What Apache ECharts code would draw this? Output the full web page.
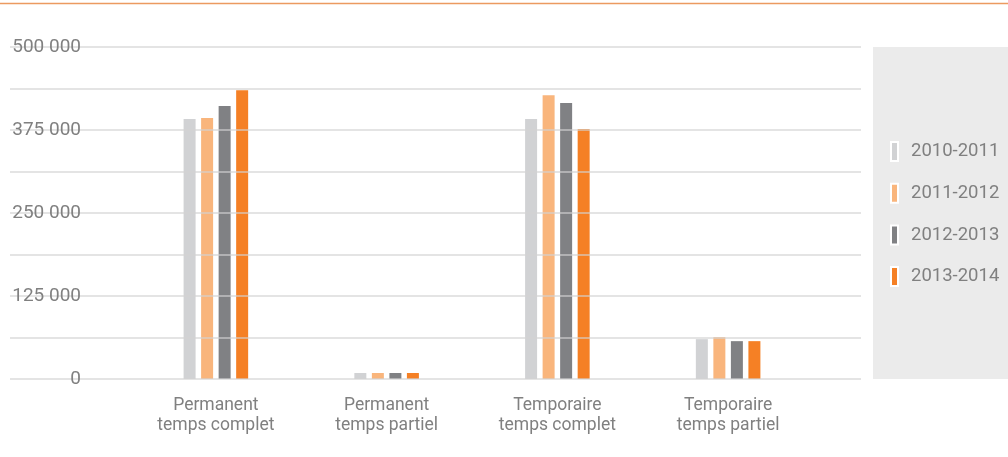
<!DOCTYPE html>
<html>
<head>
<meta charset="utf-8">
<script src="https://cdn.jsdelivr.net/npm/echarts@6/dist/echarts.min.js"></script>
<style>
  html, body { margin: 0; padding: 0; background: #fff; }
  #chart { width: 1008px; height: 457px; }
</style>
</head>
<body>
<div id="chart"></div>
<script>
const categories = ['Permanent\ntemps complet', 'Permanent\ntemps partiel', 'Temporaire\ntemps complet', 'Temporaire\ntemps partiel']
const years = ['2010-2011', '2011-2012', '2012-2013', '2013-2014']
const colors = ['#d1d2d4', '#f9b57c', '#808184', '#f58025']
const values2010 = [391500, 9000, 391500, 60000]
const values2011 = [393000, 9000, 427500, 63000]
const values2012 = [411000, 9000, 415500, 57000]
const values2013 = [435000, 9000, 376500, 57000]
const seriesValues = [values2010, values2011, values2012, values2013]

const font = "'Liberation Sans Narrow', 'Roboto', sans-serif"
const textGray = '#808080'

const chart = echarts.init(document.getElementById('chart'))

// libellés avec espace comme séparateur de milliers
function fmt(v) {
  if (v % 125000 !== 0) return ''
  return String(v).replace(/\B(?=(\d{3})+(?!\d))/g, ' ')
}

const series = years.map((name, i) => ({
  name,
  type: 'bar',
  xAxisIndex: 1,
  yAxisIndex: 1,
  barWidth: 12,
  barGap: '46%',
  itemStyle: { color: colors[i] },
  data: seriesValues[i],
}))

const option = {
  animation: false,
  color: colors,
  graphic: [
    {
      type: 'line',
      shape: { x1: 0, y1: 3.5, x2: 1008, y2: 3.5 },
      style: { stroke: '#ec9a60', lineWidth: 1.5 },
      z: 0,
    },
    {
      type: 'rect',
      shape: { x: 873, y: 47, width: 135, height: 332 },
      style: { fill: '#ebebeb' },
      z: 0,
    },
  ],
  legend: {
    data: years,
    orient: 'vertical',
    left: 885,
    top: 136,
    itemWidth: 7,
    itemHeight: 19,
    itemGap: 20.7,
    icon: 'rect',
    itemStyle: { borderColor: '#fff', borderWidth: 2 },
    textStyle: { fontFamily: font, fontSize: 18.5, color: textGray, padding: [0, 0, 0, 8] },
  },
  grid: [
    { left: 10, right: 147, top: 47, bottom: 78 },
    { left: 130.5, right: 194.5, top: 47, bottom: 78 },
  ],
  xAxis: [
    {
      type: 'value',
      gridIndex: 0,
      show: false,
    },
    {
      type: 'category',
      gridIndex: 1,
      data: categories,
      axisLine: { show: false },
      axisTick: { show: false },
      axisLabel: {
        fontFamily: font,
        fontSize: 17.5,
        color: textGray,
        lineHeight: 20,
        margin: 17,
      },
    },
  ],
  yAxis: [
    {
      type: 'value',
      gridIndex: 0,
      min: 0,
      max: 500000,
      interval: 62500,
      z: 5,
      axisLine: { show: false },
      axisTick: { show: false },
      splitLine: { lineStyle: { color: 'rgba(210,210,210,0.8)', width: 1.5 } },
      axisLabel: {
        inside: true,
        align: 'right',
        margin: 71,
        fontFamily: font,
        fontSize: 19,
        color: textGray,
        formatter: fmt,
      },
    },
    {
      type: 'value',
      gridIndex: 1,
      min: 0,
      max: 500000,
      show: false,
    },
  ],
  series,
}

chart.setOption(option)
</script>
</body>
</html>
